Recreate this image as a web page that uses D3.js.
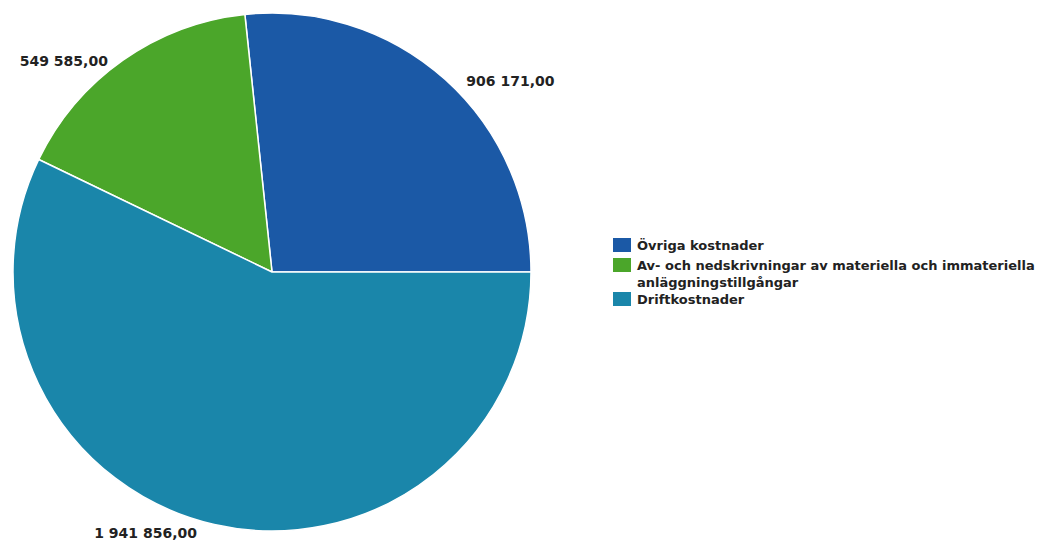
<!DOCTYPE html>
<html><head><meta charset="utf-8">
<script src="https://cdn.jsdelivr.net/npm/d3@7"></script>
<style>body{margin:0;background:#fff;} text{font-family:"DejaVu Sans",sans-serif;font-weight:bold;fill:#222;}</style>
</head><body>
<svg id="c" width="1039" height="542"></svg>
<script>
const categories = ["Övriga kostnader", "Av- och nedskrivningar av materiella och immateriella anläggningstillgångar", "Driftkostnader"];
const legendLines = [["Övriga kostnader"], ["Av- och nedskrivningar av materiella och immateriella", "anläggningstillgångar"], ["Driftkostnader"]];
const values = [906171, 549585, 1941856];
const valueLabels = ["906 171,00", "549 585,00", "1 941 856,00"];
const colors = ["#1b59a6", "#4ba62a", "#1a86aa"];

const svg = d3.select("#c");
const cx = 272, cy = 272, R = 259;
const g = svg.append("g").attr("transform", `translate(${cx},${cy})`);
const pie = d3.pie().sort(null).startAngle(Math.PI/2).endAngle(Math.PI/2 - 2*Math.PI);
const arcs = pie(values);
const arc = d3.arc().innerRadius(0).outerRadius(R);
g.selectAll("path").data(arcs).join("path")
  .attr("d", arc).attr("fill", (d,i)=>colors[i]).attr("stroke","#fff").attr("stroke-width",1.5).attr("stroke-linejoin","round");

// label layout: point on mid-angle at radius LR, then a per-slice nudge (layout only)
const LR = 280;
const nudge = [[7, 22, "start"], [-3, 23, "end"], [-64, -7, "middle"]];
const labelArc = d3.arc().innerRadius(LR).outerRadius(LR);
g.selectAll("text.lab").data(arcs).join("text").attr("class","lab")
  .each(function(d,i){
    const [x, y] = labelArc.centroid(d);
    d3.select(this).attr("x", x + nudge[i][0]).attr("y", y + nudge[i][1])
      .attr("text-anchor", nudge[i][2]).attr("font-size", 14).text(valueLabels[i]);
  });

const leg = svg.append("g").attr("transform","translate(613,0)");
const rowY = [245, 265, 299];
categories.forEach((c,i)=>{
  leg.append("rect").attr("x",0).attr("y",rowY[i]-7).attr("width",18).attr("height",14).attr("fill",colors[i]);
  legendLines[i].forEach((ln,j)=>{
    leg.append("text").attr("x",24).attr("y",rowY[i]+5+j*17).attr("font-size",13).text(ln);
  });
});
</script>
</body></html>
